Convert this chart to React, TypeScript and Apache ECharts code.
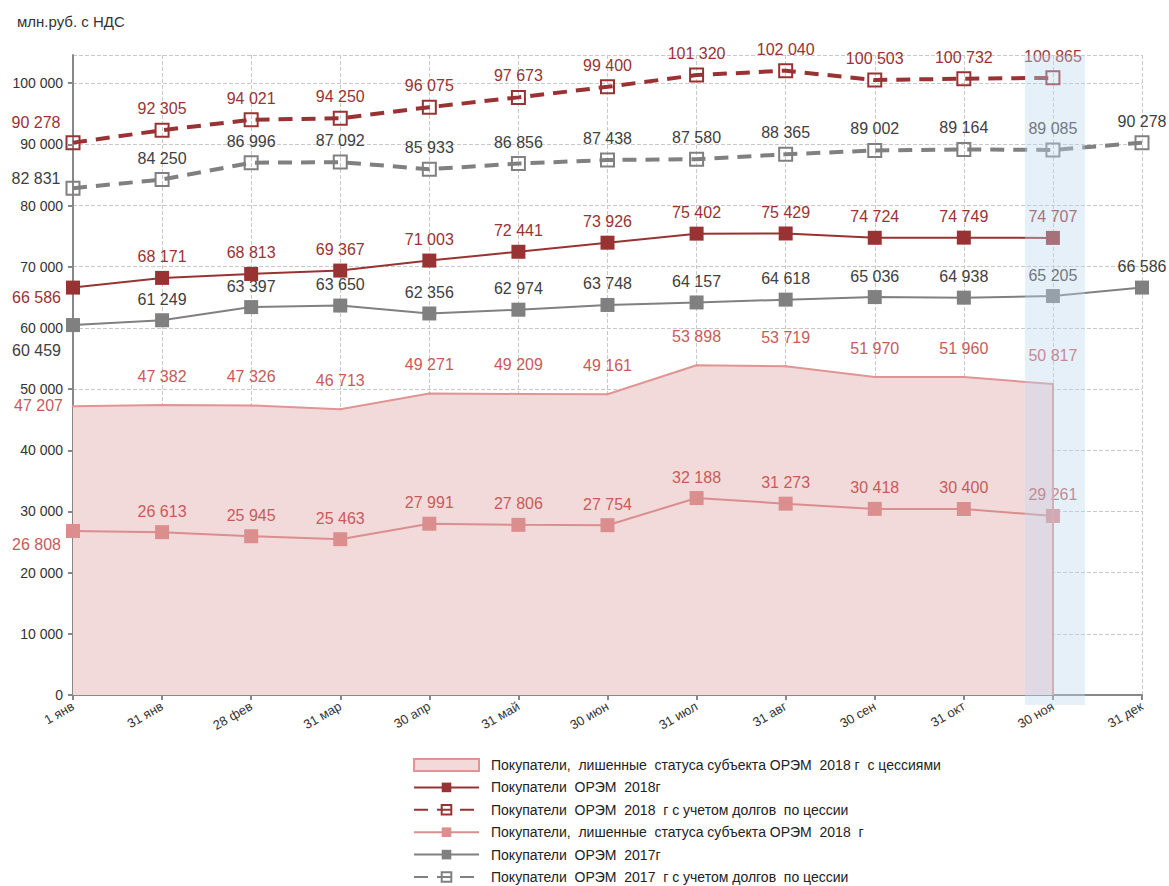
import React, { useEffect, useRef } from "react";
import * as echarts from "echarts";

const categories = ["1 янв", "31 янв", "28 фев", "31 мар", "30 апр", "31 май", "30 июн", "31 июл", "31 авг", "30 сен", "31 окт", "30 ноя", "31 дек"];

const nameArea = "Покупатели,  лишенные  статуса субъекта ОРЭМ  2018 г  с цессиями";
const name2018 = "Покупатели  ОРЭМ  2018г";
const name2018c = "Покупатели  ОРЭМ  2018  г с учетом долгов  по цессии";
const nameLost = "Покупатели,  лишенные  статуса субъекта ОРЭМ  2018  г";
const name2017 = "Покупатели  ОРЭМ  2017г";
const name2017c = "Покупатели  ОРЭМ  2017  г с учетом долгов  по цессии";

const areaValues = [47207, 47382, 47326, 46713, 49271, 49209, 49161, 53898, 53719, 51970, 51960, 50817];
const orem2018 = [66586, 68171, 68813, 69367, 71003, 72441, 73926, 75402, 75429, 74724, 74749, 74707];
const orem2018c = [90278, 92305, 94021, 94250, 96075, 97673, 99400, 101320, 102040, 100503, 100732, 100865];
const lost2018 = [26808, 26613, 25945, 25463, 27991, 27806, 27754, 32188, 31273, 30418, 30400, 29261];
const orem2017 = [60459, 61249, 63397, 63650, 62356, 62974, 63748, 64157, 64618, 65036, 64938, 65205, 66586];
const orem2017c = [82831, 84250, 86996, 87092, 85933, 86856, 87438, 87580, 88365, 89002, 89164, 89085, 90278];

const yTicksMax = 104600;
const highlightCategory = "30 ноя";

const RED = "#993333";
const PINK_LINE = "#e09595";
const PINK_MARK = "#da8e8e";
const PINK_FILL = "#f2dada";
const PINK_LABEL = "#c85a5a";
const GRAY = "#808080";
const GRAY_LABEL = "#404040";
const FONT = "'Liberation Sans', Arial, sans-serif";

const fmt = (v: number) => String(v).replace(/\B(?=(\d{3})+(?!\d))/g, " ");

function withFirstLabel(values: number[], offset: [number, number], distance: number) {
  return values.map((v, i) =>
    i === 0 ? { value: v, label: { position: "left", offset, distance } } : v
  );
}

export default function App() {
  const ref = useRef<HTMLDivElement>(null);
  useEffect(() => {
    if (!ref.current) return;
    const chart = echarts.init(ref.current, undefined, { renderer: "svg" });
    const labelBase = (color: string, distance = 5) => ({
      show: true,
      position: "top",
      distance,
      color,
      fontSize: 16,
      fontFamily: FONT,
      formatter: (p: any) => fmt(Array.isArray(p.value) ? p.value[1] : p.value),
    });
    const dashed = [14, 9];
    chart.setOption({
      animation: false,
      textStyle: { fontFamily: FONT },
      title: {
        text: "млн.руб. с НДС",
        left: 12,
        top: 9,
        textStyle: { fontSize: 15, fontWeight: "normal", color: "#333", fontFamily: FONT },
      },
      grid: { left: 73, right: 27, top: 55, bottom: 191, containLabel: false },
      legend: {
        orient: "vertical",
        left: 413,
        top: 757,
        height: 200,
        padding: 0,
        itemWidth: 65,
        itemHeight: 12,
        itemGap: 6.4,
        textStyle: { fontSize: 14, lineHeight: 16, color: "#222", fontFamily: FONT, padding: [0, 0, 0, 7] },
        data: [
          { name: nameArea, icon: "rect", itemStyle: { color: PINK_FILL, borderColor: PINK_LINE, borderWidth: 2 } },
          { name: name2018 },
          { name: name2018c },
          { name: nameLost },
          { name: name2017 },
          { name: name2017c },
        ],
      },
      xAxis: {
        type: "category",
        data: categories,
        boundaryGap: false,
        axisLine: { lineStyle: { color: "#888", width: 2 } },
        axisTick: { show: true, alignWithLabel: true, length: 5, lineStyle: { color: "#888", width: 2 } },
        axisLabel: { rotate: 30, fontSize: 13, color: "#333", margin: 10, interval: 0 },
        splitLine: { show: true, lineStyle: { color: "#c8c8c8", type: "dashed" } },
      },
      yAxis: {
        type: "value",
        min: 0,
        max: yTicksMax,
        interval: 10000,
        axisLine: { show: true, lineStyle: { color: "#888", width: 2 } },
        axisTick: { show: true, length: 5, lineStyle: { color: "#888", width: 2 } },
        axisLabel: { fontSize: 14, color: "#333", margin: 10, showMaxLabel: false, formatter: (v: number) => fmt(v) },
        splitLine: { show: true, lineStyle: { color: "#c8c8c8", type: "dashed" } },
      },
      series: [
        {
          name: nameArea,
          type: "line",
          data: withFirstLabel(areaValues, [0, -1], 9),
          symbol: "rect",
          symbolSize: 2,
          itemStyle: { color: PINK_LINE },
          lineStyle: { color: PINK_LINE, width: 2 },
          areaStyle: { color: PINK_FILL, opacity: 1 },
          label: labelBase(PINK_LABEL, 20),
          z: 1,
          markLine: {
            silent: true,
            symbol: "none",
            label: { show: false },
            lineStyle: { color: PINK_LINE, width: 2, type: "solid" },
            data: [[{ coord: [highlightCategory, areaValues[areaValues.length - 1]] }, { coord: [highlightCategory, 0] }]],
          },
        },
        {
          name: nameLost,
          type: "line",
          data: withFirstLabel(lost2018, [0, 14], 5),
          symbol: "rect",
          symbolSize: 14,
          itemStyle: { color: PINK_MARK },
          lineStyle: { color: PINK_MARK, width: 2 },
          label: labelBase(PINK_LABEL, 6),
          z: 3,
        },
        {
          name: name2017,
          type: "line",
          data: withFirstLabel(orem2017, [0, 25], 5),
          symbol: "rect",
          symbolSize: 14,
          itemStyle: { color: GRAY },
          lineStyle: { color: GRAY, width: 2 },
          label: labelBase(GRAY_LABEL, 6),
          z: 3,
        },
        {
          name: name2018,
          type: "line",
          data: withFirstLabel(orem2018, [0, 10], 5),
          symbol: "rect",
          symbolSize: 14,
          itemStyle: { color: RED },
          lineStyle: { color: RED, width: 2 },
          label: labelBase(RED, 6),
          z: 4,
        },
        {
          name: name2017c,
          type: "line",
          data: withFirstLabel(orem2017c, [0, -10], 5),
          symbol: "rect",
          symbolSize: 13,
          itemStyle: { color: "rgba(255,255,255,0)", borderColor: GRAY, borderWidth: 2 },
          lineStyle: { color: GRAY, width: 4, type: dashed },
          label: labelBase(GRAY_LABEL, 6),
          z: 3,
        },
        {
          name: name2018c,
          type: "line",
          data: withFirstLabel(orem2018c, [0, -20], 5),
          symbol: "rect",
          symbolSize: 13,
          itemStyle: { color: "rgba(255,255,255,0)", borderColor: RED, borderWidth: 2 },
          lineStyle: { color: RED, width: 4, type: dashed },
          label: labelBase(RED, 6),
          z: 4,
        },
      ],
    });

    const px = chart.convertToPixel({ xAxisIndex: 0 }, highlightCategory) as number;
    const top = chart.convertToPixel({ yAxisIndex: 0 }, yTicksMax) as number;
    const bottom = chart.convertToPixel({ yAxisIndex: 0 }, 0) as number;
    chart.setOption({
      graphic: [
        {
          type: "rect",
          silent: true,
          z: 100,
          shape: { x: px - 28, y: top, width: 60, height: bottom - top + 10 },
          style: { fill: "rgba(189,215,238,0.38)" },
        },
      ],
    });

    return () => chart.dispose();
  }, []);
  return (
    <div
      ref={ref}
      style={{ position: "absolute", left: 0, top: 0, width: 1169, height: 886 }}
    />
  );
}
